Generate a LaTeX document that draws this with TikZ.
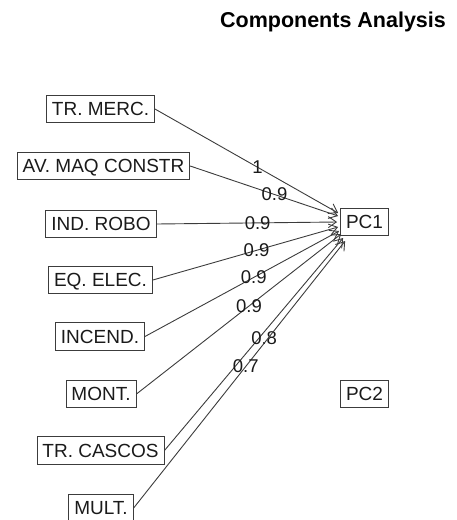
\documentclass[tikz,border=0pt]{standalone}
\usepackage{fontspec}
\setmainfont{Liberation Sans}
\usetikzlibrary{arrows.meta}
\definecolor{linegray}{HTML}{3C3C3C}
\definecolor{textgray}{HTML}{1A1A1A}
\begin{document}
\begin{tikzpicture}[x=1pt,y=-1pt,
  var/.style={draw=linegray, line width=0.8pt, text=textgray, inner xsep=5.5pt, inner ysep=7pt,
    text height=13.6pt, text depth=0pt, font=\fontsize{19}{21}\selectfont},
  load/.style={-{Straight Barb[length=8pt,width=11pt]}, draw=linegray, line width=0.9pt},
  lab/.style={text=textgray, inner sep=0pt, font=\fontsize{18.5}{20}\selectfont},
  ttl/.style={text=black, inner sep=0pt, font=\fontsize{21.5}{24}\selectfont\bfseries}]
\useasboundingbox (0,0) rectangle (457,520);
\node[ttl] (title) at (333,22) {Components Analysis};
\node[var] (v1) at (100.5,109) {TR. MERC.};
\node[var] (v2) at (103.5,166) {AV. MAQ CONSTR};
\node[var] (v3) at (101,224) {IND. ROBO};
\node[var] (v4) at (100.5,280) {EQ. ELEC.};
\node[var] (v5) at (100,336.5) {INCEND.};
\node[var] (v6) at (101,394) {MONT.};
\node[var] (v7) at (100.5,450.5) {TR. CASCOS};
\node[var] (v8) at (101,508) {MULT.};
\node[var] (pc1) at (364.5,222) {PC1};
\node[var] (pc2) at (364.5,394) {PC2};
\coordinate (e1) at ([shift={(-2,-9)}]pc1.west);
\coordinate (e2) at ([shift={(-2,-6)}]pc1.west);
\coordinate (e3) at ([shift={(-3,0)}]pc1.west);
\coordinate (e4) at ([shift={(-2,5)}]pc1.west);
\coordinate (e5) at ([shift={(-1,9)}]pc1.west);
\coordinate (e6) at ([shift={(1,12)}]pc1.west);
\coordinate (e7) at ([shift={(3,16)}]pc1.west);
\coordinate (e8) at ([shift={(5,19)}]pc1.west);
\draw[load] (v1.east) -- node[lab, pos=0.56] {1} (e1);
\draw[load] (v2.east) -- node[lab, pos=0.57] {0.9} (e2);
\draw[load] (v3.east) -- node[lab, pos=0.56] {0.9} (e3);
\draw[load] (v4.east) -- node[lab, pos=0.56] {0.9} (e4);
\draw[load] (v5.east) -- node[lab, pos=0.56] {0.9} (e5);
\draw[load] (v6.east) -- node[lab, pos=0.55] {0.9} (e6);
\draw[load] (v7.east) -- node[lab, pos=0.53, xshift=5pt] {0.8} (e7);
\draw[load] (v8.east) -- node[lab, pos=0.53] {0.7} (e8);
\end{tikzpicture}
\end{document}
